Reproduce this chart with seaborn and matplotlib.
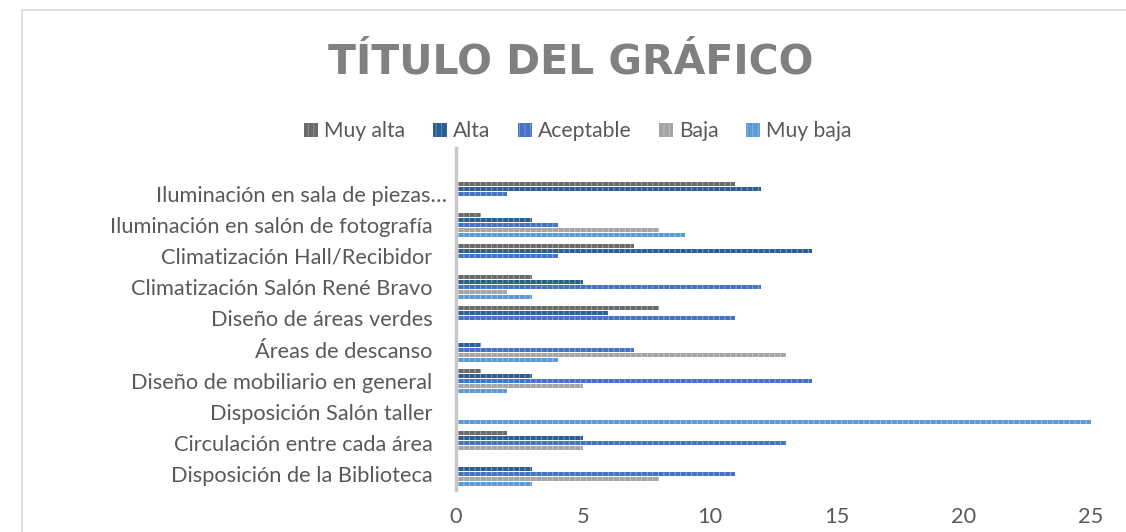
import matplotlib
matplotlib.use("Agg")
import matplotlib.pyplot as plt
from matplotlib.patches import Rectangle
from matplotlib.transforms import ScaledTranslation
import seaborn as sns
import pandas as pd

# Survey categories (top to bottom as displayed)
categories = [
    "Iluminación en sala de piezas…",
    "Iluminación en salón de fotografía",
    "Climatización Hall/Recibidor",
    "Climatización Salón René Bravo",
    "Diseño de áreas verdes",
    "Áreas de descanso",
    "Diseño de mobiliario en general",
    "Disposición Salón taller",
    "Circulación entre cada área",
    "Disposición de la Biblioteca",
]
levels = ["Muy alta", "Alta", "Aceptable", "Baja", "Muy baja"]

muy_alta = [11, 1, 7, 3, 8, 0, 1, 0, 2, 0]
alta = [12, 3, 14, 5, 6, 1, 3, 0, 5, 3]
aceptable = [2, 4, 4, 12, 11, 7, 14, 0, 13, 11]
baja = [0, 8, 0, 2, 0, 13, 5, 0, 5, 8]
muy_baja = [0, 9, 0, 3, 0, 4, 2, 25, 0, 3]

x_ticks = [0, 5, 10, 15, 20, 25]
colors = ["#6a6a6a", "#2b5f94", "#4472c4", "#a5a5a5", "#5b9bd5"]

series = [muy_alta, alta, aceptable, baja, muy_baja]
rows = []
for lvl, vals in zip(levels, series):
    for cat, v in zip(categories, vals):
        rows.append({"categoria": cat, "nivel": lvl, "valor": v})
df = pd.DataFrame(rows)

sns.set_theme(style="white")
plt.rcParams["font.family"] = ["Lato", "DejaVu Sans"]
plt.rcParams["hatch.linewidth"] = 0.6

W, H = 1126, 532
fig = plt.figure(figsize=(W / 100, H / 100), dpi=100)
ax = fig.add_axes([456 / W, 1 - 490 / H, (1091 - 456) / W, (490 - 148) / H])

sns.barplot(
    data=df, y="categoria", x="valor", hue="nivel", order=categories,
    hue_order=levels, palette=colors, orient="h", width=0.8, gap=0.2,
    saturation=1, legend=True, ax=ax,
)

# light striped texture on bars
for patch in ax.patches:
    fc = patch.get_facecolor()
    light = tuple(0.55 * c + 0.45 for c in fc[:3])
    patch.set_edgecolor(light)
    patch.set_linewidth(0)
    patch.set_hatch("|||")

ax.set_xlim(0, 25)
ax.set_ylim(9.5, -1.46)
ax.set_xticks(x_ticks)
ax.set_xticklabels([str(t) for t in x_ticks])
ax.set_xlabel("")
ax.set_ylabel("")
ax.tick_params(axis="both", length=0, labelsize=15.7, colors="#595959")
ax.tick_params(axis="x", pad=12.5)
ax.tick_params(axis="y", pad=17)
for side in ["top", "right", "bottom"]:
    ax.spines[side].set_visible(False)
ax.spines["left"].set_color("#c8c8c8")
ax.spines["left"].set_linewidth(2.5)
ax.grid(False)

# the truncated first label sits a little closer to the axis
first = ax.get_yticklabels()[0]
first.set_transform(first.get_transform() + ScaledTranslation(15 / 100, 0, fig.dpi_scale_trans))

handles, labels = ax.get_legend_handles_labels()
ax.get_legend().remove()
for h in handles:
    h.set_hatch("|||")
    fc = h.get_facecolor()
    h.set_edgecolor(tuple(0.7 * c + 0.3 for c in fc[:3]))
    h.set_linewidth(0)
fig.legend(
    handles, labels, loc="center", bbox_to_anchor=(578 / W, 1 - 131 / H),
    ncol=5, frameon=False, fontsize=15.2, handlelength=0.65, handleheight=0.65,
    handletextpad=0.3, columnspacing=1.3, labelcolor="#595959",
)

fig.text(571 / W, 1 - 62 / H, "TÍTULO DEL GRÁFICO", ha="center", va="center",
         fontsize=29.5, fontweight="bold", color="#808080",
         family=["DejaVu Sans"])

# chart frame
fig.patches.append(Rectangle((22 / W, -0.5), 2, 1.5 - 10 / H, transform=fig.transFigure,
                             fill=False, edgecolor="#d9d9d9", linewidth=1.2))

fig.savefig("out.png", dpi=100, facecolor="white")
